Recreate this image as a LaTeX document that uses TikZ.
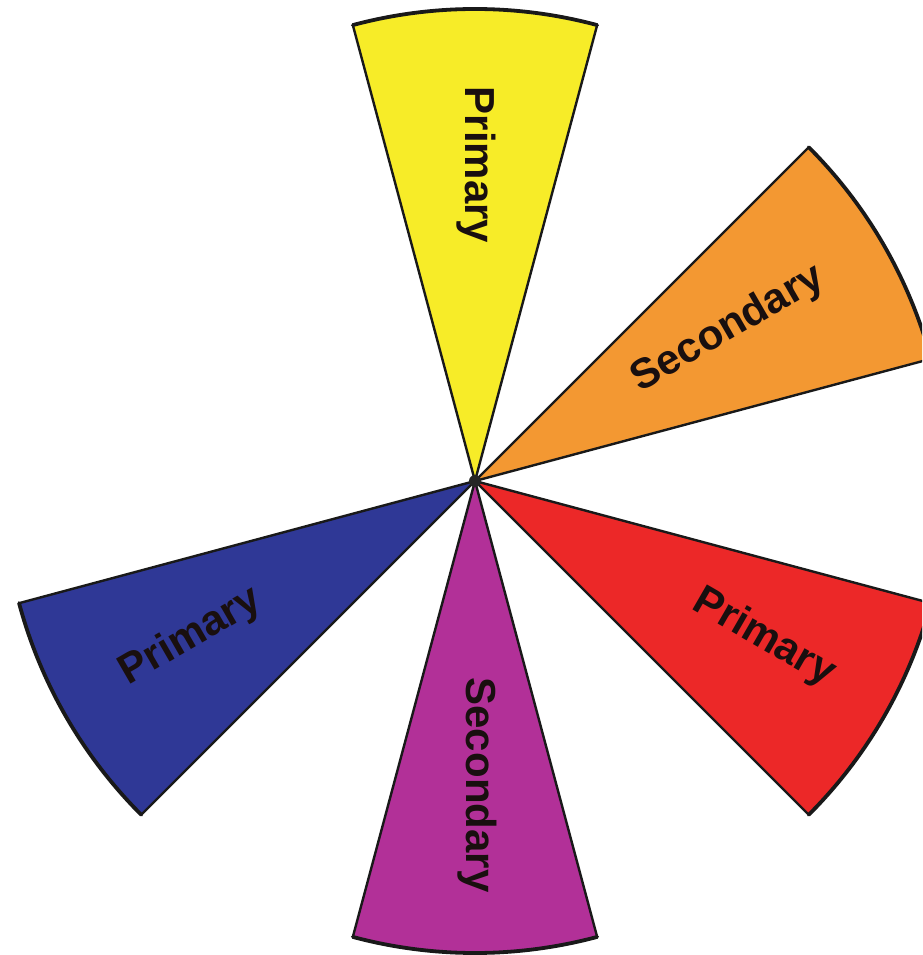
\documentclass[tikz,border=0pt]{standalone}
\usepackage{fontspec}
\setmainfont{Liberation Sans}
\definecolor{wyellow}{RGB}{247,236,40}
\definecolor{worange}{RGB}{243,152,50}
\definecolor{wred}{RGB}{236,40,40}
\definecolor{wpurple}{RGB}{178,48,152}
\definecolor{wblue}{RGB}{47,56,150}
\definecolor{wtext}{RGB}{25,15,15}
\newcommand{\wedgeshape}[3]{%
  \fill[#3] (0,0) -- (#1:472pt) arc[start angle=#1, end angle=#2, radius=472pt] -- cycle;
  \draw[wedgeside] (#1:472pt) -- (0,0) -- (#2:472pt);
  \draw[wedgearc] (#1:472pt) arc[start angle=#1, end angle=#2, radius=472pt];
}
\begin{document}
\begin{tikzpicture}[x=1pt,y=1pt,
  wedgeside/.style={draw=black!90,line width=2.4pt,line join=round},
  wedgearc/.style={draw=black!90,line width=3.8pt,line cap=round},
  wlabel/.style={font=\fontsize{42}{42}\selectfont\bfseries,text=wtext,inner sep=0pt}]
\useasboundingbox (-475pt,-474pt) rectangle (447pt,481pt);
\clip (-475pt,-474pt) rectangle (447pt,481pt);
\fill[white] (-475pt,-474pt) rectangle (447pt,481pt);
\wedgeshape{75}{105}{wyellow}
\wedgeshape{15}{45}{worange}
\wedgeshape{-45}{-15}{wred}
\wedgeshape{255}{285}{wpurple}
\wedgeshape{195}{225}{wblue}
\fill[black!85] (0,0) circle (6pt);
\node[wlabel,rotate=-90] (ly) at (1pt,316pt) {Primary};
\node[wlabel,rotate=30] (lo) at (253pt,152pt) {Secondary};
\node[wlabel,rotate=-30] (lr) at (289pt,-157pt) {Primary};
\node[wlabel,rotate=-90] (lp) at (2pt,-304pt) {Secondary};
\node[wlabel,rotate=30] (lb) at (-284pt,-156pt) {Primary};
\end{tikzpicture}
\end{document}
